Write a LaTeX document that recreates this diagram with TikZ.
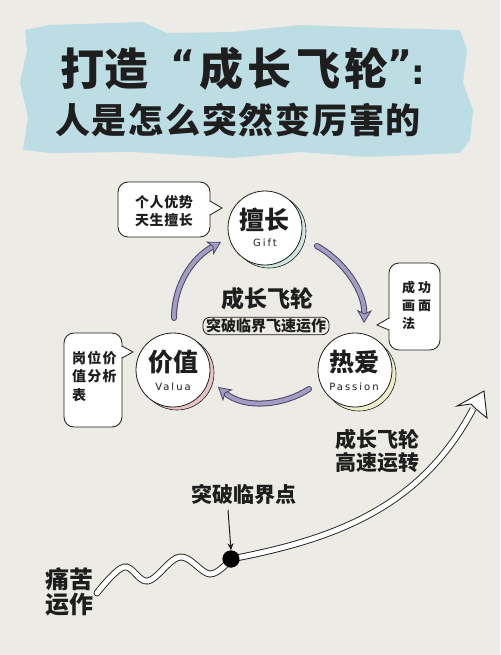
\documentclass[tikz,border=0pt]{standalone}
\usepackage{fontspec}
\usetikzlibrary{arrows.meta,calc}
\newfontfamily\cjk{Noto Sans CJK SC}
\newfontfamily\latf{DejaVu Sans}[LetterSpace=20]
\newfontfamily\quotef{DejaVu Sans}
\newcommand\pxs[2]{\fontsize{#1}{#2}\selectfont}
\definecolor{bgc}{HTML}{EDEBE6}
\definecolor{banner}{HTML}{BCDDE3}
\definecolor{ink}{HTML}{1E1E1E}
\definecolor{purp}{HTML}{A39DC6}
\definecolor{arrowline}{HTML}{4B4660}
\definecolor{shteal}{HTML}{CDE6E2}
\definecolor{shpink}{HTML}{E9C3C4}
\definecolor{shyellow}{HTML}{EEEEC8}
\tikzset{
  ctext/.style={text=ink, inner sep=0pt, align=center},
  wheel/.style={circle, fill=white, draw=ink, line width=0.8pt, minimum size=74pt, inner sep=0pt},
  shade/.style={draw=ink, line width=0.6pt},
  callbox/.style={fill=white, draw=ink, line width=0.8pt, rounded corners=10pt},
  flowout/.style={draw=arrowline, line width=6pt, line cap=round, shorten >=9pt},
  flowin/.style={draw=purp, line width=4pt, line cap=round, -{Stealth[length=13pt,width=15pt,inset=3.5pt,line width=0.8pt,fill=purp,color=arrowline]}},
}
\begin{document}
\begin{tikzpicture}[x=1pt,y=-1pt]
\useasboundingbox (0,0) rectangle (500,655);
\fill[bgc] (0,0) rectangle (500,655);

% title banner
\fill[banner] (27,50) -- (25,30) -- (50,25) -- (143,22) -- (167,33) -- (233,32) -- (300,25) -- (383,28) -- (460,30)
  -- (467,50) -- (463,83) -- (473,110) -- (470,140) -- (460,153) -- (367,157) -- (300,152) -- (233,158)
  -- (133,152) -- (50,153) -- (23,150) -- (28,117) -- (20,83) -- cycle;
\node[ctext, font=\cjk\bfseries\pxs{44}{44}] (t1a) at (104,69) {打造};
\node[ctext, font=\quotef\bfseries\pxs{38}{38}] (t1q) at (183,64) {“};
\node[ctext, font=\cjk\bfseries\pxs{44}{44}\addfontfeatures{LetterSpace=10}] (t1b) at (294,69) {成长飞轮};
\node[ctext, font=\quotef\bfseries\pxs{38}{38}] (t1r) at (400,64) {”};
\node[ctext, font=\quotef\bfseries\pxs{34}{34}] (t1c) at (418,75) {:};
\node[ctext, font=\cjk\bfseries\pxs{35}{35}\addfontfeatures{LetterSpace=5}] (t2) at (238,120) {人是怎么突然变厉害的};

% wheels
\fill[shteal, shade] (269,231) circle (37);
\node[wheel] (gift) at (265,228) {};
\node[ctext, font=\cjk\bfseries\pxs{25}{25}] (giftT) at (264,220) {擅长};
\node[ctext, font=\latf\pxs{10}{10}] (giftL) at (265,243) {Gift};

\fill[shpink, shade] (177,373) circle (37);
\node[wheel] (val) at (173,370) {};
\node[ctext, font=\cjk\bfseries\pxs{25}{25}] (valT) at (173,362) {价值};
\node[ctext, font=\latf\pxs{10}{10}] (valL) at (173,387) {Valua};

\fill[shyellow, shade] (359,374) circle (37);
\node[wheel] (pas) at (355,370) {};
\node[ctext, font=\cjk\bfseries\pxs{25}{25}] (pasT) at (354,362) {热爱};
\node[ctext, font=\latf\pxs{10}{10}] (pasL) at (354,387) {Passion};

% flywheel arrows
\coordinate (a1) at (174,318); \coordinate (a2) at (221,242);
\coordinate (b1) at (317,246); \coordinate (b2) at (364,323);
\coordinate (c1) at (309,389); \coordinate (c2) at (218,387);
\draw[flowout] (a1) .. controls (174,285) and (192,258) .. (a2);
\draw[flowin]  (a1) .. controls (174,285) and (192,258) .. (a2);
\draw[flowout] (b1) .. controls (345,262) and (365,292) .. (b2);
\draw[flowin]  (b1) .. controls (345,262) and (365,292) .. (b2);
\draw[flowout] (c1) .. controls (285,405) and (245,410) .. (c2);
\draw[flowin]  (c1) .. controls (285,405) and (245,410) .. (c2);

% centre
\node[ctext, font=\cjk\bfseries\pxs{23}{23}] (fw) at (267,299) {成长飞轮};
\node[draw=ink, line width=0.8pt, rounded corners=7pt, inner xsep=3pt, inner ysep=1.5pt, text=ink,
      font=\cjk\bfseries\pxs{15}{15}] (pill) at (266,326) {突破临界飞速运作};

% callout 1
\draw[callbox] (118,182) rectangle (210,237);
\filldraw[fill=white, draw=ink, line width=0.8pt] (210,201) -- (222,208) -- (210,215);
\fill[white] (209,201.8) rectangle (211,214.2);
\node[ctext, font=\cjk\bfseries\pxs{14}{18}\addfontfeatures{LetterSpace=4}] (co1) at (164,211) {个人优势\\天生擅长};

% callout 2
\draw[callbox] (64,333) rectangle (122,427);
\filldraw[fill=white, draw=ink, line width=0.8pt] (122,346) -- (133,352) -- (122,358);
\fill[white] (121,346.8) rectangle (123,357.2);
\node[ctext, align=left, anchor=west, font=\cjk\bfseries\pxs{14}{18.5}\addfontfeatures{LetterSpace=9}] (co2) at (72,376.5) {岗位价\\值分析\\表};

% callout 3
\draw[callbox] (389,263) rectangle (440,350);
\filldraw[fill=white, draw=ink, line width=0.8pt] (389,318) -- (377,325) -- (389,330);
\fill[white] (388,318.8) rectangle (390,329.2);
\node[ctext, align=left, anchor=west, font=\cjk\bfseries\pxs{13}{18}\addfontfeatures{LetterSpace=22}] (co3) at (402,305) {成功\\画面\\法};

% growth curve
\coordinate (g0) at (97,593);
\coordinate (gend) at (473,409);
\node[circle, fill=black, minimum size=17pt, inner sep=0pt] (dot) at (231,559) {};
\draw[ink, line width=0.9pt, double=white, double distance=5pt, line cap=round]
  plot[smooth, tension=0.6] coordinates {(97,593) (124,567) (148,581) (180,557) (210,574) (231,559)};
\draw[ink, line width=0.9pt, double=white, double distance=5pt]
  (dot.center) .. controls (330,540) and (420,510) .. (gend);
\filldraw[fill=white, draw=ink, line width=0.9pt, line join=miter]
  (484,391) -- (457,406) -- (471,404) -- (476,409) -- (487,418) -- cycle;
\node[circle, fill=black, minimum size=17pt, inner sep=0pt] (dot2) at (dot) {};

\node[ctext, font=\cjk\bfseries\pxs{21}{21}] (crit) at (244,495) {突破临界点};
\draw[ink, line width=1pt, -{Stealth[length=7pt,width=6pt]}] (228,510) -- (dot2.north);

\node[ctext, font=\cjk\bfseries\pxs{21}{23}] (fast) at (377,450.5) {成长飞轮\\高速运转};
\node[ctext, font=\cjk\bfseries\pxs{24}{25}] (pain) at (69,591.5) {痛苦\\运作};
\end{tikzpicture}
\end{document}
